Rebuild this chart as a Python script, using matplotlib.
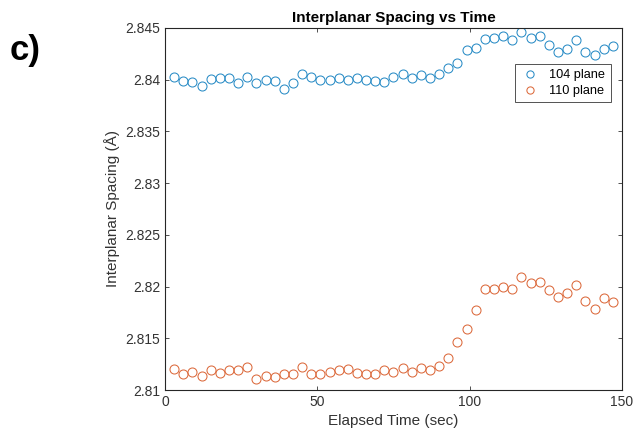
import matplotlib
matplotlib.use("Agg")
import matplotlib.pyplot as plt
import numpy as np

plt.rcParams['font.family'] = ['Liberation Sans', 'DejaVu Sans']

# elapsed time (sec), one reading every 3 s
time_sec = np.arange(3, 150, 3)

# interplanar spacing (Angstrom)
plane_104 = [2.8403, 2.8399, 2.8398, 2.8394, 2.8401, 2.8402, 2.8402, 2.8397, 2.8403, 2.8397,
             2.8400, 2.8399, 2.8391, 2.8397, 2.8406, 2.8403, 2.8400, 2.8400, 2.8402, 2.8400,
             2.8402, 2.8400, 2.8399, 2.8398, 2.8403, 2.8406, 2.8402, 2.8405, 2.8402, 2.8406,
             2.8411, 2.8416, 2.8429, 2.8431, 2.8439, 2.8440, 2.8442, 2.8438, 2.8446, 2.8440,
             2.8442, 2.8434, 2.8427, 2.8430, 2.8438, 2.8427, 2.8424, 2.8430, 2.8433]
plane_110 = [2.8120, 2.8115, 2.8117, 2.8114, 2.8119, 2.8116, 2.8119, 2.8119, 2.8122, 2.8111,
             2.8114, 2.8113, 2.8115, 2.8115, 2.8122, 2.8115, 2.8115, 2.8117, 2.8119, 2.8120,
             2.8116, 2.8115, 2.8115, 2.8119, 2.8117, 2.8121, 2.8117, 2.8121, 2.8119, 2.8123,
             2.8131, 2.8146, 2.8159, 2.8177, 2.8198, 2.8198, 2.8200, 2.8198, 2.8209, 2.8203,
             2.8204, 2.8197, 2.8190, 2.8194, 2.8202, 2.8186, 2.8178, 2.8189, 2.8185]

yticks = [2.81, 2.815, 2.82, 2.825, 2.83, 2.835, 2.84, 2.845]
ytick_labels = ['2.81', '2.815', '2.82', '2.825', '2.83', '2.835', '2.84', '2.845']
xticks = [0, 50, 100, 150]

fig = plt.figure(figsize=(6.36, 4.36), dpi=100)
ax = fig.add_axes([0.2594, 0.1055, 0.7186, 0.8303])

ax.plot(time_sec, plane_104, 'o', mfc='none', mec='#2a8cc6', ms=6.5, mew=0.75, label='104 plane')
ax.plot(time_sec, plane_110, 'o', mfc='none', mec='#dc6a3c', ms=6.5, mew=0.75, label='110 plane')

ax.set_xlim(0, 150)
ax.set_ylim(2.81, 2.845)
ax.set_xticks(xticks)
ax.set_yticks(yticks)
ax.set_yticklabels(ytick_labels)
ax.tick_params(direction='in', top=True, right=True, labelsize=10, colors='#333333',
               length=3, width=0.6)
for s in ax.spines.values():
    s.set_linewidth(0.8)
    s.set_color('#262626')

ax.set_xlabel('Elapsed Time (sec)', fontsize=11, color='#333333')
ax.set_ylabel('Interplanar Spacing (Å)', fontsize=11, color='#333333')
ax.set_title('Interplanar Spacing vs Time', fontsize=11, fontweight='bold', pad=4)

leg = ax.legend(loc='upper right', bbox_to_anchor=(0.975, 0.9), fontsize=9.2,
                frameon=True, fancybox=False, edgecolor='#262626', handletextpad=0.7,
                handlelength=1.6, borderpad=0.4, labelspacing=0.3, borderaxespad=0,
                markerscale=0.8)
leg.get_frame().set_linewidth(0.7)

fig.text(0.015, 0.862, 'c)', fontsize=25, fontweight='bold')

fig.savefig('out.png', dpi=100)
